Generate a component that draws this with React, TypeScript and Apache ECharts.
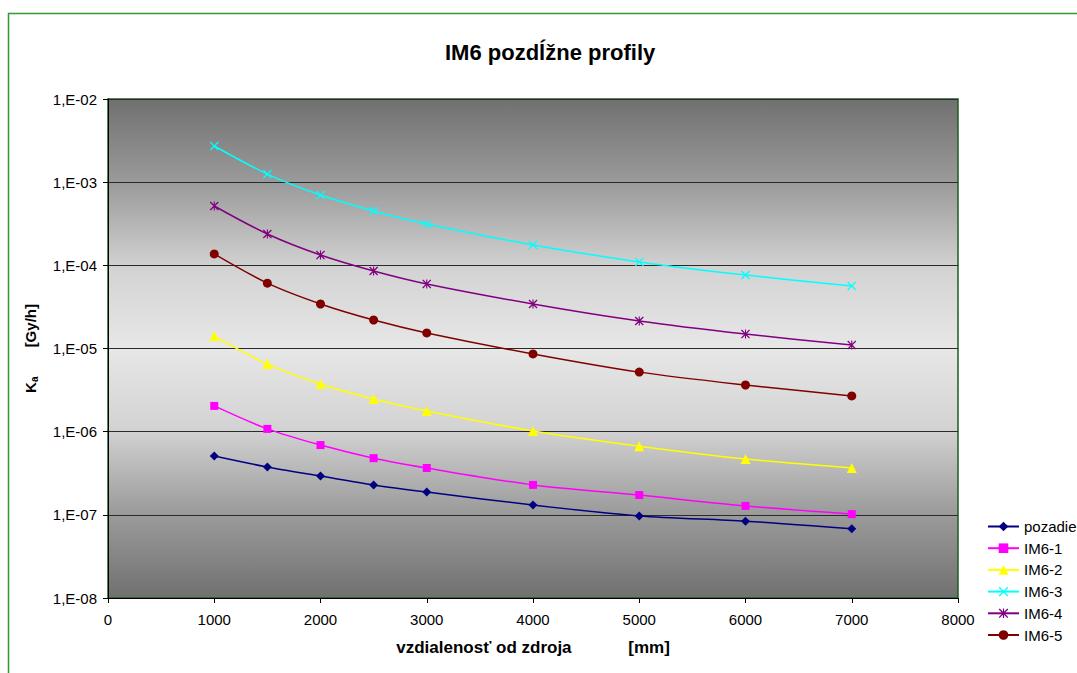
import React, { useEffect, useRef } from "react";
import * as echarts from "echarts";

const distances = [1000, 1500, 2000, 2500, 3000, 4000, 5000, 6000, 7000];
const pozadie = [5.1e-7, 3.76e-7, 2.93e-7, 2.29e-7, 1.88e-7, 1.31e-7, 9.7e-8, 8.4e-8, 6.8e-8];
const im61 = [2.04e-6, 1.08e-6, 6.9e-7, 4.8e-7, 3.66e-7, 2.29e-7, 1.73e-7, 1.28e-7, 1.02e-7];
const im62 = [1.41e-5, 6.5e-6, 3.74e-6, 2.47e-6, 1.77e-6, 1.02e-6, 6.7e-7, 4.7e-7, 3.66e-7];
const im63 = [2.72e-3, 1.25e-3, 7.0e-4, 4.5e-4, 3.14e-4, 1.76e-4, 1.1e-4, 7.65e-5, 5.65e-5];
const im64 = [5.17e-4, 2.38e-4, 1.33e-4, 8.55e-5, 5.97e-5, 3.43e-5, 2.14e-5, 1.49e-5, 1.1e-5];
const im65 = [1.37e-4, 6.1e-5, 3.43e-5, 2.2e-5, 1.54e-5, 8.6e-6, 5.2e-6, 3.64e-6, 2.69e-6];

const seriesNames = ["pozadie", "IM6-1", "IM6-2", "IM6-3", "IM6-4", "IM6-5"];
const seriesValues = [pozadie, im61, im62, im63, im64, im65];
const seriesColors = ["#000080", "#ff00ff", "#ffff00", "#00ffff", "#800080", "#800000"];

const X_PATH =
  "path://M0,1L1,0L5,4L9,0L10,1L6,5L10,9L9,10L5,6L1,10L0,9L4,5Z";
const STAR_PATH =
  "path://M0,1L1,0L5,4L9,0L10,1L6,5L10,9L9,10L5,6L1,10L0,9L4,5ZM4.4,0L5.6,0L5.6,10L4.4,10Z";
const seriesSymbols = ["diamond", "rect", "triangle", X_PATH, STAR_PATH, "circle"];
const seriesSymbolSizes = [9, 8, 10, 9, 9, 9];

const FONT = "'Liberation Sans', Arial, sans-serif";

export default function App() {
  const ref = useRef<HTMLDivElement>(null);
  useEffect(() => {
    if (!ref.current) return;
    const chart = echarts.init(ref.current, undefined, { renderer: "svg" });
    const series = seriesNames.map((name, i) => ({
      name,
      type: "line",
      smooth: 0.3,
      data: distances.map((d, j) => [d, seriesValues[i][j]]),
      symbol: seriesSymbols[i],
      symbolSize: seriesSymbolSizes[i],
      showSymbol: true,
      color: seriesColors[i],
      lineStyle: { width: 1.5, color: seriesColors[i] },
      itemStyle: { color: seriesColors[i] },
      z: 3,
    }));
    chart.setOption({
      animation: false,
      backgroundColor: "#ffffff",
      textStyle: { fontFamily: FONT },
      graphic: [
        {
          type: "rect",
          shape: { x: 8.5, y: 13.5, width: 1200, height: 800 },
          style: { fill: "none", stroke: "#339933", lineWidth: 1.5 },
          z: 0,
          silent: true,
        },
      ],
      title: {
        text: "IM6 pozdĺžne profily",
        left: 440,
        top: 36,
        textStyle: { fontFamily: FONT, fontSize: 22, fontWeight: "bold", color: "#000" },
      },
      legend: {
        orient: "vertical",
        left: 982,
        top: 514,
        itemWidth: 31,
        itemHeight: 12,
        itemGap: 6.7,
        textStyle: { fontFamily: FONT, fontSize: 15, color: "#000" },
        data: seriesNames,
      },
      grid: {
        left: 108,
        top: 99,
        width: 850,
        height: 499,
        show: true,
        borderColor: "#1e5e1e",
        borderWidth: 1.5,
        backgroundColor: {
          type: "linear",
          x: 0,
          y: 0,
          x2: 0,
          y2: 1,
          colorStops: [
            { offset: 0, color: "#707070" },
            { offset: 0.18, color: "#9e9e9e" },
            { offset: 0.34, color: "#d3d3d3" },
            { offset: 0.5, color: "#e7e7e7" },
            { offset: 0.66, color: "#d3d3d3" },
            { offset: 0.82, color: "#9e9e9e" },
            { offset: 1, color: "#707070" },
          ],
        },
      },
      xAxis: {
        type: "value",
        min: 0,
        max: 8000,
        interval: 1000,
        name: "vzdialenosť od zdroja            [mm]",
        nameLocation: "middle",
        nameGap: 41,
        nameTextStyle: { fontFamily: FONT, fontSize: 17, fontWeight: "bold", color: "#000" },
        axisLine: { show: true, lineStyle: { color: "#000", width: 1 } },
        axisTick: { show: true, length: 5, lineStyle: { color: "#000" } },
        axisLabel: {
          fontFamily: FONT,
          fontSize: 15,
          color: "#000",
          margin: 14,
          formatter: (v: number) => String(v),
        },
        splitLine: { show: false },
      },
      yAxis: {
        type: "log",
        logBase: 10,
        min: 1e-8,
        max: 1e-2,
        interval: 1,
        name: "{k|K}{s|a}       [Gy/h]",
        nameLocation: "middle",
        nameRotate: 90,
        nameGap: 69,
        nameTextStyle: {
          fontFamily: FONT,
          fontSize: 15,
          fontWeight: "bold",
          color: "#000",
          rich: {
            k: { fontFamily: FONT, fontSize: 15, fontWeight: "bold", color: "#000" },
            s: { fontFamily: FONT, fontSize: 10, fontWeight: "bold", color: "#000", verticalAlign: "bottom", padding: [7, 0, 0, 0] },
          },
        },
        axisLine: { show: true, lineStyle: { color: "#000", width: 1 } },
        axisTick: { show: true, length: 5, lineStyle: { color: "#000" } },
        axisLabel: {
          fontFamily: FONT,
          fontSize: 15,
          color: "#000",
          margin: 11,
          formatter: (v: number) => {
            const e = Math.round(Math.log10(v));
            const a = Math.abs(e);
            return "1,E" + (e < 0 ? "-" : "+") + (a < 10 ? "0" + a : String(a));
          },
        },
        splitLine: { show: true, lineStyle: { color: "#2a2a2a", width: 1 } },
        minorTick: { show: false },
      },
      series,
    });
    return () => chart.dispose();
  }, []);
  return (
    <div
      ref={ref}
      style={{ position: "fixed", left: 0, top: 0, width: 1077, height: 673 }}
    />
  );
}
